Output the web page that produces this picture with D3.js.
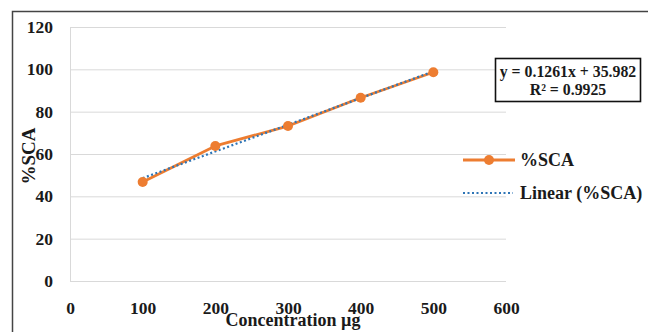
<!DOCTYPE html>
<html>
<head>
<meta charset="utf-8">
<script src="https://cdn.jsdelivr.net/npm/d3@7"></script>
<style>
  html, body { margin: 0; padding: 0; background: #fff; }
  svg { display: block; }
  text { font-family: "Liberation Serif", "Times New Roman", serif; }
</style>
</head>
<body>
<svg id="chart" width="648" height="332"></svg>
<script>
// Scavenging activity (%SCA) against concentration
const concentrations = [100, 200, 300, 400, 500];
const scaValues = [46.8, 63.8, 73.2, 86.6, 98.6];
const xTicks = [0, 100, 200, 300, 400, 500, 600];
const yTicks = [0, 20, 40, 60, 80, 100, 120];
const trendSlope = 0.1261;
const trendIntercept = 35.982;
const trendR2 = 0.9925;
const seriesName = "%SCA";
const trendName = "Linear (%SCA)";
const xTitle = "Concentration µg";
const yTitle = "%SCA";

const orange = "#ED7D31";
const blue = "#2E75B6";

const svg = d3.select("#chart");

// frame around the chart area
svg.append("path")
  .attr("d", "M12.5,332 V11.5 H648")
  .attr("fill", "none")
  .attr("stroke", "#444")
  .attr("stroke-width", 1.5);

const x = d3.scaleLinear().domain([0, 600]).range([70, 506]);
const y = d3.scaleLinear().domain([0, 120]).range([281, 27]);

// horizontal gridlines
svg.append("g")
  .selectAll("line")
  .data(yTicks)
  .join("line")
  .attr("x1", x(0)).attr("x2", x(600))
  .attr("y1", d => y(d) + 0.5).attr("y2", d => y(d) + 0.5)
  .attr("stroke", "#d9d9d9")
  .attr("stroke-width", 1);

// vertical axis line
svg.append("line")
  .attr("x1", x(0) + 0.5).attr("x2", x(0) + 0.5)
  .attr("y1", y(120)).attr("y2", y(0))
  .attr("stroke", "#d9d9d9");

// y axis labels
const yAxis = d3.axisLeft(y).tickValues(yTicks).tickSize(0).tickPadding(17);
svg.append("g")
  .attr("transform", `translate(${x(0)},0)`)
  .call(yAxis)
  .call(g => g.select(".domain").remove())
  .call(g => g.selectAll("text")
    .attr("font-family", "Liberation Serif")
    .attr("font-size", 17.5)
    .attr("font-weight", "bold")
    .attr("fill", "#1a1a1a"));

// x axis labels
const xAxis = d3.axisBottom(x).tickValues(xTicks).tickSize(0).tickPadding(21);
svg.append("g")
  .attr("transform", `translate(0,${y(0)})`)
  .call(xAxis)
  .call(g => g.select(".domain").remove())
  .call(g => g.selectAll("text")
    .attr("font-family", "Liberation Serif")
    .attr("font-size", 17.5)
    .attr("font-weight", "bold")
    .attr("fill", "#1a1a1a"));

// data series
const data = concentrations.map((c, i) => ({ c, v: scaValues[i] }));
svg.append("path")
  .datum(data)
  .attr("fill", "none")
  .attr("stroke", orange)
  .attr("stroke-width", 2.8)
  .attr("stroke-linejoin", "round")
  .attr("d", d3.line().x(d => x(d.c)).y(d => y(d.v)));

// linear trend line
const xr = d3.extent(concentrations);
svg.append("line")
  .attr("x1", x(xr[0])).attr("y1", y(trendSlope * xr[0] + trendIntercept))
  .attr("x2", x(xr[1])).attr("y2", y(trendSlope * xr[1] + trendIntercept))
  .attr("stroke", blue)
  .attr("stroke-width", 2.2)
  .attr("stroke-dasharray", "2,2.5");

svg.append("g")
  .selectAll("circle")
  .data(data)
  .join("circle")
  .attr("cx", d => x(d.c))
  .attr("cy", d => y(d.v))
  .attr("r", 5)
  .attr("fill", orange);

// equation box
const eqBox = svg.append("g").attr("transform", "translate(495,58)");
eqBox.append("rect")
  .attr("x", 0.5).attr("y", 0.5)
  .attr("width", 145).attr("height", 43)
  .attr("fill", "#fff")
  .attr("stroke", "#111")
  .attr("stroke-width", 1.6);
eqBox.append("text")
  .attr("x", 73).attr("y", 19)
  .attr("text-anchor", "middle")
  .attr("font-size", 15.8)
  .attr("font-weight", "bold")
  .attr("fill", "#1a1a1a")
  .text(`y = ${trendSlope}x + ${trendIntercept}`);
eqBox.append("text")
  .attr("x", 73).attr("y", 37)
  .attr("text-anchor", "middle")
  .attr("font-size", 15.8)
  .attr("font-weight", "bold")
  .attr("fill", "#1a1a1a")
  .text(`R² = ${trendR2}`);

// legend
const legend = svg.append("g");
legend.append("line")
  .attr("x1", 463).attr("x2", 515).attr("y1", 160).attr("y2", 160)
  .attr("stroke", orange).attr("stroke-width", 2.8);
legend.append("circle")
  .attr("cx", 489).attr("cy", 160).attr("r", 5).attr("fill", orange);
legend.append("text")
  .attr("x", 520).attr("y", 166)
  .attr("font-size", 18).attr("font-weight", "bold").attr("fill", "#1a1a1a")
  .text(seriesName);
legend.append("line")
  .attr("x1", 463).attr("x2", 513).attr("y1", 193).attr("y2", 193)
  .attr("stroke", blue).attr("stroke-width", 2.2)
  .attr("stroke-dasharray", "2,2.5");
legend.append("text")
  .attr("x", 520).attr("y", 199)
  .attr("font-size", 18).attr("font-weight", "bold").attr("fill", "#1a1a1a")
  .text(trendName);

// axis titles
svg.append("text")
  .attr("transform", "translate(35,156) rotate(-90)")
  .attr("text-anchor", "middle")
  .attr("font-size", 19)
  .attr("font-weight", "bold")
  .attr("fill", "#1a1a1a")
  .text(yTitle);

svg.append("text")
  .attr("x", 293).attr("y", 326)
  .attr("text-anchor", "middle")
  .attr("font-size", 18)
  .attr("font-weight", "bold")
  .attr("fill", "#1a1a1a")
  .text(xTitle);
</script>
</body>
</html>
